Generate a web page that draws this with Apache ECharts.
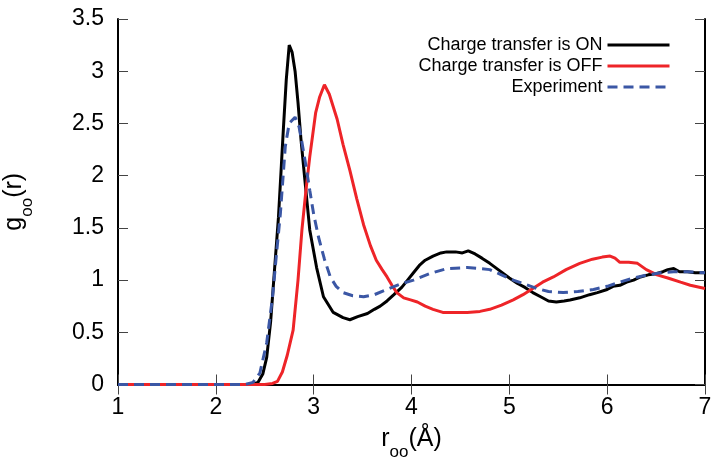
<!DOCTYPE html>
<html>
<head>
<meta charset="utf-8">
<script src="https://cdn.jsdelivr.net/npm/echarts@6/dist/echarts.min.js"></script>
<style>
  html, body { margin: 0; padding: 0; background: #fff; }
  #chart { width: 714px; height: 463px; }
</style>
</head>
<body>
<div id="chart"></div>
<script>
// g_OO(r) curves
var rOn = [1.0, 2.38, 2.43, 2.48, 2.52, 2.56, 2.60, 2.64, 2.67, 2.69, 2.72, 2.75, 2.78, 2.81, 2.84, 2.87, 2.91, 2.96, 3.03, 3.10, 3.20, 3.30, 3.37, 3.45, 3.55, 3.62, 3.68, 3.75, 3.82, 3.90, 3.96, 4.02, 4.08, 4.14, 4.22, 4.30, 4.36, 4.45, 4.52, 4.58, 4.65, 4.72, 4.80, 4.90, 5.00, 5.08, 5.16, 5.24, 5.32, 5.40, 5.48, 5.56, 5.62, 5.72, 5.82, 5.90, 6.00, 6.06, 6.13, 6.20, 6.27, 6.34, 6.42, 6.50, 6.57, 6.62, 6.68, 6.74, 6.82, 6.90, 7.00]
var gOn = [0, 0, 0.02, 0.10, 0.26, 0.60, 1.10, 1.60, 2.10, 2.44, 2.92, 3.25, 3.18, 3.00, 2.70, 2.35, 1.96, 1.48, 1.12, 0.84, 0.69, 0.64, 0.62, 0.65, 0.68, 0.72, 0.75, 0.80, 0.86, 0.93, 1.00, 1.07, 1.14, 1.19, 1.23, 1.26, 1.27, 1.27, 1.26, 1.28, 1.25, 1.21, 1.16, 1.09, 1.02, 0.97, 0.93, 0.88, 0.84, 0.80, 0.79, 0.80, 0.81, 0.83, 0.86, 0.88, 0.91, 0.94, 0.95, 0.98, 1.00, 1.03, 1.05, 1.06, 1.08, 1.10, 1.11, 1.08, 1.08, 1.07, 1.07]

var rOff = [1.0, 2.50, 2.58, 2.63, 2.68, 2.73, 2.79, 2.84, 2.88, 2.92, 2.96, 3.02, 3.06, 3.11, 3.16, 3.24, 3.30, 3.37, 3.44, 3.51, 3.58, 3.64, 3.70, 3.75, 3.80, 3.85, 3.92, 3.99, 4.06, 4.14, 4.22, 4.32, 4.45, 4.57, 4.70, 4.80, 4.92, 5.04, 5.14, 5.24, 5.34, 5.45, 5.58, 5.72, 5.85, 5.95, 6.03, 6.08, 6.13, 6.22, 6.31, 6.40, 6.51, 6.62, 6.75, 6.85, 7.00]
var gOff = [0, 0, 0.01, 0.03, 0.12, 0.28, 0.52, 1.00, 1.48, 1.85, 2.18, 2.60, 2.75, 2.87, 2.78, 2.54, 2.30, 2.05, 1.78, 1.53, 1.33, 1.19, 1.10, 1.03, 0.95, 0.88, 0.83, 0.81, 0.79, 0.75, 0.72, 0.69, 0.69, 0.69, 0.70, 0.72, 0.76, 0.81, 0.86, 0.92, 0.98, 1.03, 1.10, 1.16, 1.20, 1.22, 1.23, 1.21, 1.17, 1.17, 1.16, 1.10, 1.05, 1.02, 0.98, 0.95, 0.92]

var rExp = [1.0, 2.30, 2.38, 2.45, 2.52, 2.58, 2.62, 2.66, 2.71, 2.75, 2.81, 2.85, 2.88, 2.92, 2.96, 3.00, 3.05, 3.11, 3.17, 3.23, 3.30, 3.40, 3.51, 3.62, 3.75, 3.88, 4.02, 4.18, 4.36, 4.57, 4.70, 4.80, 4.92, 5.04, 5.16, 5.28, 5.40, 5.55, 5.70, 5.86, 6.00, 6.13, 6.27, 6.41, 6.55, 6.68, 6.82, 7.00]
var gExp = [0, 0, 0.02, 0.11, 0.40, 0.84, 1.25, 1.64, 2.28, 2.50, 2.56, 2.47, 2.32, 2.10, 1.86, 1.63, 1.41, 1.20, 1.03, 0.94, 0.88, 0.85, 0.84, 0.86, 0.91, 0.96, 1.00, 1.06, 1.11, 1.12, 1.11, 1.10, 1.05, 1.00, 0.96, 0.92, 0.89, 0.88, 0.89, 0.91, 0.94, 0.98, 1.02, 1.05, 1.07, 1.08, 1.08, 1.07]

var seriesNames = ['Charge transfer is ON', 'Charge transfer is OFF', 'Experiment']

function zip (xs, ys) {
  return xs.map(function (x, i) { return [x, ys[i]] })
}

var font = "'Liberation Sans', Arial, Helvetica, sans-serif"
var tickStyle = { show: true, inside: true, length: 10, lineStyle: { color: '#444', width: 1 } }
var lineAxis = { show: true, lineStyle: { color: '#000', width: 2 } }
var nameRich = {
  a: { fontSize: 25, fontFamily: font, color: '#000', lineHeight: 34, verticalAlign: 'top' },
  s: { fontSize: 17, fontFamily: font, color: '#000', lineHeight: 17, verticalAlign: 'bottom' }
}

var chart = echarts.init(document.getElementById('chart'))
chart.setOption({
  animation: false,
  backgroundColor: '#fff',
  grid: { left: 118, right: 9, top: 19, bottom: 78.5, containLabel: false, outerBoundsMode: 'none' },
  legend: {
    orient: 'vertical',
    align: 'right',
    right: 38,
    top: 31,
    itemWidth: 62,
    itemHeight: 18,
    itemGap: 3,
    itemStyle: { opacity: 0 },
    lineStyle: { width: 3 },
    textStyle: { fontSize: 18, fontFamily: font, color: '#000', lineHeight: 18 },
    data: seriesNames
  },
  xAxis: [
    {
      type: 'value', min: 1, max: 7, interval: 1,
      axisLine: lineAxis, axisTick: tickStyle, splitLine: { show: false },
      axisLabel: { fontSize: 23, fontFamily: font, color: '#000', margin: 12 },
      name: '{a|r}{s|oo}{a|(Å)}',
      nameLocation: 'middle', nameGap: 42,
      nameTextStyle: { rich: nameRich }
    },
    {
      type: 'value', min: 1, max: 7, interval: 1, position: 'top',
      axisLine: lineAxis, axisTick: tickStyle, axisLabel: { show: false }, splitLine: { show: false }
    }
  ],
  yAxis: [
    {
      type: 'value', min: 0, max: 3.5, interval: 0.5,
      axisLine: lineAxis, axisTick: tickStyle, splitLine: { show: false },
      axisLabel: { fontSize: 23, fontFamily: font, color: '#000', margin: 14 },
      name: '{a|g}{s|oo}{a|(r)}',
      nameLocation: 'middle', nameGap: 82,
      nameTextStyle: { rich: nameRich }
    },
    {
      type: 'value', min: 0, max: 3.5, interval: 0.5, position: 'right',
      axisLine: lineAxis, axisTick: tickStyle, axisLabel: { show: false }, splitLine: { show: false }
    }
  ],
  series: [
    {
      name: seriesNames[0], type: 'line', showSymbol: false, symbol: 'none',
      lineStyle: { color: '#000', width: 3 }, itemStyle: { color: '#000' },
      data: zip(rOn, gOn)
    },
    {
      name: seriesNames[1], type: 'line', showSymbol: false, symbol: 'none',
      lineStyle: { color: '#ee2428', width: 3 }, itemStyle: { color: '#ee2428' },
      data: zip(rOff, gOff)
    },
    {
      name: seriesNames[2], type: 'line', showSymbol: false, symbol: 'none',
      lineStyle: { color: '#3b57a5', width: 3, type: [10, 6] }, itemStyle: { color: '#3b57a5' },
      data: zip(rExp, gExp)
    }
  ]
})
</script>
</body>
</html>
